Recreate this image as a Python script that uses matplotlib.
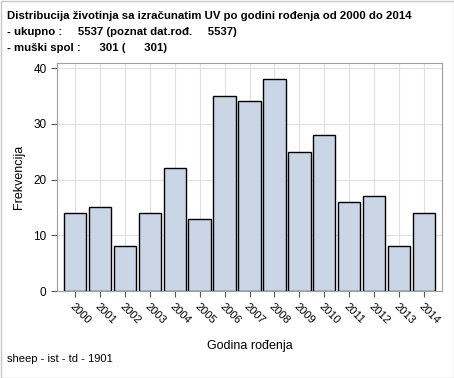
import matplotlib
matplotlib.use("Agg")
import matplotlib.pyplot as plt

plt.rcParams['font.family'] = ['Liberation Sans', 'DejaVu Sans']

years = ["2000", "2001", "2002", "2003", "2004", "2005", "2006", "2007",
         "2008", "2009", "2010", "2011", "2012", "2013", "2014"]
counts = [14, 15, 8, 14, 22, 13, 35, 34, 38, 25, 28, 16, 17, 8, 14]
y_ticks = [0, 10, 20, 30, 40]

fig = plt.figure(figsize=(4.54, 3.78), dpi=100)
ax = fig.add_axes([57 / 454, 1 - 291 / 378, 385 / 454, 228 / 378])

x = list(range(len(years)))
ax.bar(x, counts, width=0.9, color="#CAD5E5", edgecolor="black", linewidth=1, zorder=3)

ax.set_xlim(-0.73, len(years) - 0.27)
ax.set_ylim(0, 40.9)
ax.set_yticks(y_ticks)
ax.set_xticks(x)
ax.set_xticklabels(years, rotation=-45, ha="left", va="top", rotation_mode="anchor", fontsize=8)
ax.tick_params(axis="y", labelsize=8.5, color="#555555", length=4)
ax.tick_params(axis="x", color="#555555", length=4)
ax.grid(True, color="#E0E0E0", linewidth=0.8, zorder=0)
for s in ax.spines.values():
    s.set_color("#A0A0A0")

ax.set_ylabel("Frekvencija", fontsize=9, labelpad=6)
ax.set_xlabel("Godina rođenja", fontsize=9, labelpad=10)

fig.text(7 / 454, 1 - 16 / 378, "Distribucija životinja sa izračunatim UV po godini rođenja od 2000 do 2014",
         fontsize=8.2, fontweight="bold", va="center")
fig.text(7 / 454, 1 - 32 / 378, "- ukupno :     5537 (poznat dat.rođ.     5537)",
         fontsize=8.2, fontweight="bold", va="center")
fig.text(7 / 454, 1 - 48 / 378, "- muški spol :      301 (      301)",
         fontsize=8.2, fontweight="bold", va="center")
fig.text(7 / 454, 1 - 359 / 378, "sheep - ist - td - 1901", fontsize=8, va="center")

fig.patches.append(plt.Rectangle((0.5 / 454, 0.5 / 378), 1 - 1 / 454, 1 - 1 / 378,
                                 transform=fig.transFigure, fill=False,
                                 edgecolor="#C8C8C8", linewidth=1))

fig.savefig("out.png", dpi=100)
